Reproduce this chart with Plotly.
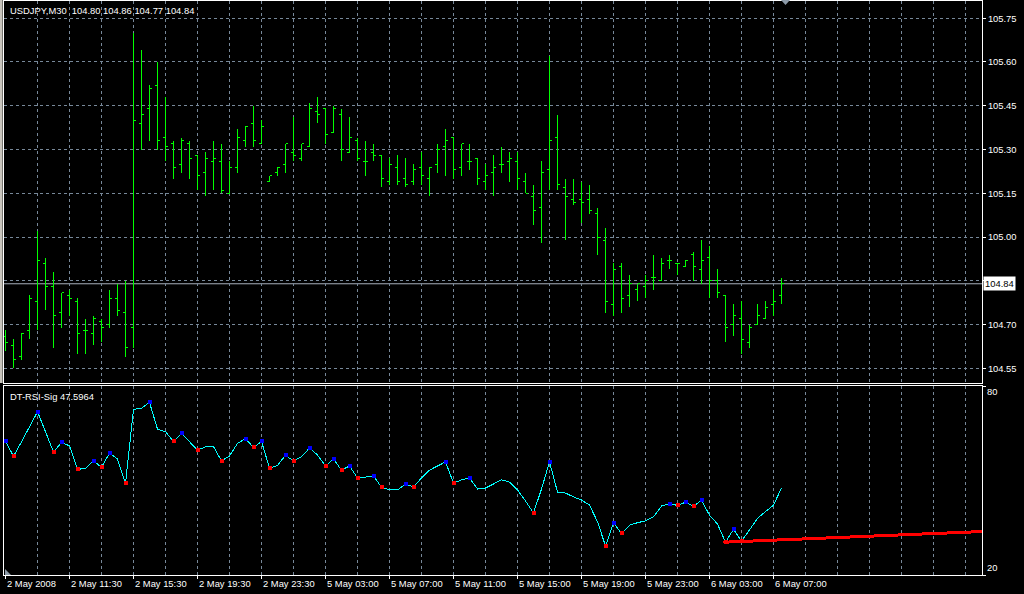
import plotly.graph_objects as go

# ---------------- data ----------------
opens = [104.66, 104.63, 104.59, 104.68, 104.78, 104.91, 104.83, 104.74, 104.80, 104.78,
         104.68, 104.67, 104.71, 104.70, 104.79, 104.74, 104.69, 105.39, 105.44, 105.52,
         105.34, 105.32, 105.25, 105.32, 105.28, 105.22, 105.26, 105.26, 105.15, 105.24,
         105.33, 105.39, 105.32, 105.19, 105.22, 105.25, 105.29, 105.27, 105.31, 105.43,
         105.44, 105.36, 105.42, 105.29, 105.33, 105.26, 105.29, 105.28, 105.19, 105.24,
         105.20, 105.19, 105.24, 105.20, 105.25, 105.31, 105.34, 105.24, 105.26, 105.27,
         105.19, 105.22, 105.25, 105.26, 105.26, 105.19, 105.14, 105.10, 105.23, 105.34,
         105.17, 105.13, 105.13, 105.13, 105.08, 104.99, 104.77, 104.90, 104.80, 104.82,
         104.83, 104.86, 104.85, 104.92, 104.91, 104.90, 104.94, 104.89, 104.93, 104.85,
         104.80, 104.70, 104.72, 104.64, 104.70, 104.72, 104.77, 104.80]
highs = [104.68, 104.65, 104.67, 104.80, 105.02, 104.93, 104.88, 104.81, 104.82, 104.79,
         104.72, 104.73, 104.72, 104.82, 104.84, 104.85, 105.70, 105.64, 105.52, 105.60,
         105.48, 105.33, 105.34, 105.33, 105.28, 105.29, 105.33, 105.32, 105.26, 105.37,
         105.38, 105.45, 105.40, 105.21, 105.24, 105.32, 105.41, 105.32, 105.46, 105.48,
         105.44, 105.45, 105.44, 105.41, 105.34, 105.33, 105.32, 105.28, 105.27, 105.28,
         105.27, 105.25, 105.29, 105.24, 105.32, 105.37, 105.34, 105.32, 105.32, 105.27,
         105.25, 105.28, 105.31, 105.29, 105.29, 105.22, 105.18, 105.26, 105.62, 105.42,
         105.20, 105.20, 105.19, 105.18, 105.10, 105.03, 104.91, 104.91, 104.87, 104.84,
         104.87, 104.94, 104.93, 104.94, 104.91, 104.92, 104.95, 104.99, 104.97, 104.89,
         104.80, 104.77, 104.78, 104.70, 104.77, 104.78, 104.82, 104.86]
lows = [104.61, 104.55, 104.58, 104.65, 104.68, 104.75, 104.62, 104.69, 104.73, 104.60,
        104.60, 104.63, 104.64, 104.69, 104.73, 104.59, 104.62, 105.30, 105.33, 105.30,
        105.26, 105.20, 105.22, 105.20, 105.16, 105.14, 105.16, 105.15, 105.15, 105.22,
        105.31, 105.31, 105.32, 105.19, 105.21, 105.22, 105.26, 105.26, 105.31, 105.39,
        105.32, 105.36, 105.26, 105.29, 105.26, 105.21, 105.26, 105.17, 105.18, 105.18,
        105.17, 105.18, 105.18, 105.14, 105.22, 105.21, 105.20, 105.21, 105.23, 105.18,
        105.16, 105.14, 105.22, 105.19, 105.16, 105.15, 105.04, 104.98, 105.16, 105.16,
        104.99, 105.11, 105.05, 105.08, 104.94, 104.74, 104.73, 104.74, 104.76, 104.78,
        104.79, 104.82, 104.85, 104.89, 104.87, 104.90, 104.85, 104.84, 104.79, 104.79,
        104.64, 104.66, 104.60, 104.62, 104.70, 104.72, 104.73, 104.77]
closes = [104.64, 104.58, 104.67, 104.79, 104.92, 104.83, 104.73, 104.81, 104.79, 104.67,
          104.68, 104.72, 104.69, 104.79, 104.75, 104.62, 105.40, 105.42, 105.51, 105.33,
          105.31, 105.24, 105.33, 105.27, 105.21, 105.27, 105.27, 105.16, 105.24, 105.34,
          105.38, 105.33, 105.38, 105.21, 105.24, 105.32, 105.28, 105.32, 105.44, 105.42,
          105.35, 105.44, 105.30, 105.34, 105.27, 105.26, 105.28, 105.20, 105.25, 105.19,
          105.18, 105.23, 105.21, 105.24, 105.30, 105.33, 105.23, 105.32, 105.26, 105.20,
          105.21, 105.24, 105.25, 105.27, 105.20, 105.15, 105.09, 105.22, 105.33, 105.18,
          105.14, 105.12, 105.12, 105.09, 105.00, 104.78, 104.89, 104.79, 104.84, 104.84,
          104.85, 104.86, 104.91, 104.92, 104.91, 104.92, 104.90, 104.92, 104.85, 104.81,
          104.69, 104.73, 104.65, 104.69, 104.73, 104.76, 104.78, 104.84]

rsi = [62.5, 57.7, 62.3, 67.1, 71.8, 65.5, 59.0, 62.1, 61.0, 53.5,
       53.9, 56.2, 54.2, 58.7, 56.8, 49.1, 72.6, 72.9, 74.8, 66.3,
       65.5, 62.4, 65.0, 62.3, 59.6, 60.7, 60.8, 56.2, 57.8, 61.8,
       63.3, 60.5, 62.4, 53.9, 54.8, 58.0, 56.2, 57.5, 60.3, 58.1,
       54.6, 56.8, 53.3, 54.6, 50.8, 51.1, 51.4, 47.9, 47.0, 47.0,
       48.9, 47.9, 50.8, 53.3, 54.6, 55.9, 49.2, 50.2, 50.8, 47.3,
       47.6, 48.9, 50.2, 49.5, 47.0, 43.5, 39.7, 47.3, 55.9, 46.3,
       46.0, 44.8, 43.8, 42.2, 36.9, 29.2, 36.6, 33.2, 35.8, 36.6,
       37.2, 38.5, 41.9, 42.6, 42.1, 43.1, 41.8, 43.7, 39.0, 36.2,
       30.4, 34.5, 30.8, 34.3, 38.0, 40.1, 42.2, 47.6]
rsi_last = "47.5964"

blue_idx = [0, 4, 7, 11, 13, 18, 22, 30, 32, 35, 38, 41, 43, 46, 50, 55, 58, 68,
            76, 83, 85, 87, 91]
red_idx = [1, 6, 9, 12, 15, 21, 24, 27, 31, 33, 36, 40, 42, 44, 47, 51, 56, 66,
           75, 77, 84, 86, 90, 92]

trend_x = [89.75, 122.1]
trend_y = [30.4, 33.8]

tick_pos = [0, 8, 16, 24, 32, 40, 48, 56, 64, 72, 80, 88, 96]
tick_labels = ["2 May 2008", "2 May 11:30", "2 May 15:30", "2 May 19:30", "2 May 23:30",
               "5 May 03:00", "5 May 07:00", "5 May 11:00", "5 May 15:00", "5 May 19:00",
               "5 May 23:00", "6 May 03:00", "6 May 07:00"]
grid_pos = list(range(4, 121, 4))
price_ticks = [104.55, 104.70, 104.85, 105.00, 105.15, 105.30, 105.45, 105.60, 105.75]
price_labels = ["104.55", "104.70", "", "105.00", "105.15", "105.30", "105.45", "105.60", "105.75"]
symbol_title = "USDJPY,M30"
indicator_name = "DT-RSI-Sig"

# ---------------- layout helpers ----------------
W, H = 1024, 594
ML, MR, MT, MB = 4, 42, 1, 19
PW, PH = W - ML - MR, H - MT - MB


def px(x):
    return (x - ML) / PW


def py(y):
    return (H - MB - y) / PH


FONT = "Liberation Sans, Arial, sans-serif"
FS = 9.4
GRID = "#778899"
DASH = "3px,3px"
x_idx = list(range(len(closes)))

fig = go.Figure()
fig.add_trace(go.Ohlc(
    x=x_idx, open=opens, high=highs, low=lows, close=closes,
    increasing=dict(line=dict(color="#00ff00", width=1)),
    decreasing=dict(line=dict(color="#00ff00", width=1)),
    tickwidth=0.3, xaxis="x", yaxis="y", showlegend=False, hoverinfo="skip"))

fig.add_trace(go.Scatter(
    x=x_idx, y=rsi, mode="lines", line=dict(color="#00ffff", width=1),
    xaxis="x2", yaxis="y2", showlegend=False, hoverinfo="skip"))
fig.add_trace(go.Scatter(
    x=trend_x, y=trend_y, mode="lines", line=dict(color="#ff0000", width=3),
    xaxis="x2", yaxis="y2", showlegend=False, hoverinfo="skip"))
fig.add_trace(go.Scatter(
    x=blue_idx, y=[rsi[i] for i in blue_idx], mode="markers",
    marker=dict(symbol="square", size=4, color="#0000ff", line=dict(width=0)),
    xaxis="x2", yaxis="y2", showlegend=False, hoverinfo="skip"))
fig.add_trace(go.Scatter(
    x=red_idx, y=[rsi[i] for i in red_idx], mode="markers",
    marker=dict(symbol="square", size=4, color="#ff0000", line=dict(width=0)),
    xaxis="x2", yaxis="y2", showlegend=False, hoverinfo="skip"))

xr = [(ML - 5.5) / 8, (W - MR - 5.5) / 8]
main_dom = [py(383), 1.0]
rsi_dom = [0.0, py(386)]

axis_common = dict(showline=True, mirror=True, linecolor="#ffffff", linewidth=1,
                   zeroline=False, fixedrange=True)

fig.update_layout(
    width=W, height=H,
    margin=dict(l=ML, r=MR, t=MT, b=MB, pad=0),
    paper_bgcolor="#000000", plot_bgcolor="#000000",
    font=dict(family=FONT, size=FS, color="#ffffff"),
    showlegend=False,
    xaxis=dict(domain=[0, 1], range=xr, anchor="y", tickmode="array", tickvals=grid_pos,
               showticklabels=False, ticks="", showgrid=True, gridcolor=GRID, griddash=DASH,
               gridwidth=1, rangeslider=dict(visible=False), **axis_common),
    yaxis=dict(domain=main_dom, range=[104.50, 105.809], anchor="x", side="right",
               tickmode="array", tickvals=price_ticks, ticktext=price_labels,
               ticks="outside", ticklen=3, tickcolor="#ffffff",
               tickfont=dict(family=FONT, size=FS, color="#ffffff"),
               showgrid=True, gridcolor=GRID, griddash=DASH, gridwidth=1, **axis_common),
    xaxis2=dict(domain=[0, 1], range=xr, anchor="y2", matches="x", tickmode="array",
                tickvals=grid_pos, showticklabels=False, ticks="", showgrid=True,
                gridcolor=GRID, griddash=DASH, gridwidth=1, **axis_common),
    yaxis2=dict(domain=rsi_dom, range=[20, 80], anchor="x2", side="right",
                tickmode="array", tickvals=[20, 80], showticklabels=False,
                ticks="outside", ticklen=3, tickcolor="#ffffff", showgrid=False,
                **axis_common),
)

shapes = []
shapes.append(dict(type="line", xref="paper", x0=0, x1=1, yref="y",
                   y0=closes[-1], y1=closes[-1], line=dict(color="#a8b0bc", width=1),
                   layer="below"))
for p in tick_pos:
    shapes.append(dict(type="line", xref="x2", x0=p, x1=p, yref="paper",
                       y0=0, y1=-4 / PH, line=dict(color="#ffffff", width=1)))
shapes.append(dict(type="rect", xref="paper", x0=px(0), x1=px(2.6), yref="paper",
                   y0=py(383), y1=py(0), fillcolor="#c8c4bc", line=dict(width=0)))
shapes.append(dict(type="path", xref="paper", yref="paper",
                   path=f"M {px(781)},{py(0)} L {px(790)},{py(0)} L {px(785.5)},{py(5)} Z",
                   fillcolor="#8c9aa8", line=dict(width=0)))
shapes.append(dict(type="path", xref="paper", yref="paper",
                   path=f"M {px(5)},{py(569)} L {px(5)},{py(575)} L {px(11)},{py(575)} Z",
                   fillcolor="#8c9aa8", line=dict(width=0)))
fig.update_layout(shapes=shapes)

ann = []
ann.append(dict(text=symbol_title + "\u00a0\u00a0" + " ".join(f"{v:.2f}" for v in
                [opens[-1], highs[-1], lows[-1], closes[-1]]),
                xref="paper", yref="paper", x=px(8), y=py(3), xanchor="left", yanchor="top",
                showarrow=False, font=dict(family=FONT, size=FS, color="#ffffff")))
ann.append(dict(text=f"{indicator_name} {rsi_last}", xref="paper", yref="paper",
                x=px(8), y=py(389), xanchor="left", yanchor="top", showarrow=False,
                font=dict(family=FONT, size=FS, color="#ffffff")))
ann.append(dict(text=f"{closes[-1]:.2f}", xref="paper", yref="y", x=px(983), y=closes[-1],
                xanchor="left", yanchor="middle", showarrow=False, bgcolor="#ffffff",
                borderpad=1, font=dict(family=FONT, size=FS, color="#000000")))
ann.append(dict(text="80", xref="paper", yref="paper", x=px(985), y=py(384),
                xanchor="left", yanchor="top", showarrow=False,
                font=dict(family=FONT, size=FS, color="#ffffff")))
ann.append(dict(text="20", xref="paper", yref="paper", x=px(985), y=py(575),
                xanchor="left", yanchor="bottom", showarrow=False,
                font=dict(family=FONT, size=FS, color="#ffffff")))
for p, lab in zip(tick_pos, tick_labels):
    ann.append(dict(text=lab, xref="x2", yref="paper", x=p, y=py(576), xanchor="left",
                    yanchor="top", xshift=-1, showarrow=False,
                    font=dict(family=FONT, size=FS, color="#ffffff")))
fig.update_layout(annotations=ann)

post = """
document.body.style.margin='0';
document.body.style.padding='0';
document.documentElement.style.overflow='hidden';
var gd = document.getElementById('{plot_id}');
function crisp(){
  gd.querySelectorAll('.ohlclayer path, .trace.ohlc path, .scatterlayer .js-line, .scatterlayer .point').forEach(function(p){
    p.style.shapeRendering = 'crispEdges';
  });
}
crisp();
if (gd.on) { gd.on('plotly_afterplot', crisp); }
"""
fig.write_html("out.html", post_script=post,
               config={"displayModeBar": False, "staticPlot": True})
